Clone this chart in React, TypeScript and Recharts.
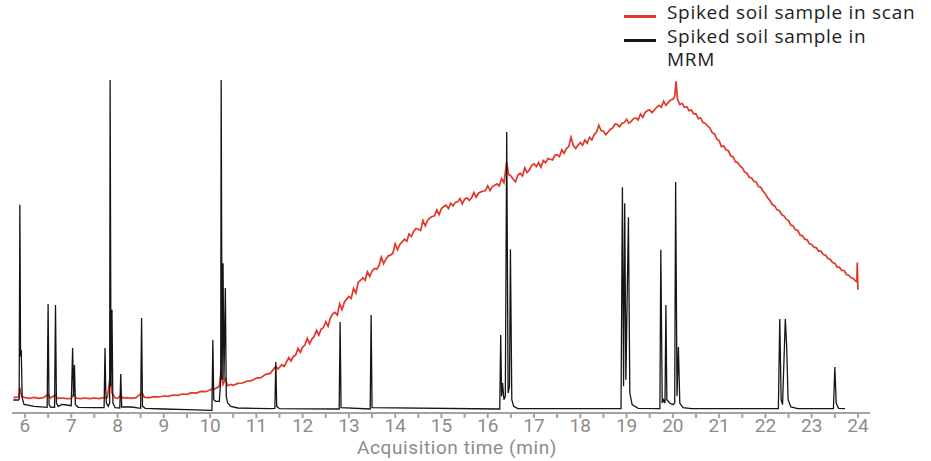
import React from "react";
import { LineChart, Line, XAxis, YAxis } from "recharts";

// x ticks every half minute, labels only on whole minutes
const TICKS = [
  6, 6.5, 7, 7.5, 8, 8.5, 9, 9.5, 10, 10.5, 11, 11.5, 12, 12.5, 13, 13.5, 14, 14.5,
  15, 15.5, 16, 16.5, 17, 17.5, 18, 18.5, 19, 19.5, 20, 20.5, 21, 21.5, 22, 22.5,
  23, 23.5, 24,
];

// [time (min), relative abundance %] – full scan trace
const SCAN: [number, number][] = [
  [5.75, 4.6], [5.8, 4.7], [5.87, 4.8], [5.89, 7.6], [5.93, 5.0], [6.0, 4.6], [6.1, 4.4],
  [6.2, 4.7], [6.3, 4.4], [6.4, 4.6], [6.5, 5.6], [6.55, 4.5], [6.66, 5.4], [6.7, 4.4],
  [6.8, 4.5], [6.9, 4.3], [7.0, 4.4], [7.05, 5.6], [7.1, 4.5], [7.2, 4.3], [7.3, 4.5],
  [7.4, 4.3], [7.5, 4.5], [7.6, 4.3], [7.7, 4.6], [7.78, 4.6], [7.84, 10.8], [7.88, 6.0],
  [7.95, 4.5], [8.0, 4.4], [8.07, 5.3], [8.12, 4.5], [8.2, 4.6], [8.3, 4.4], [8.4, 4.6],
  [8.53, 6.1], [8.58, 4.7], [8.7, 4.6], [8.8, 4.9], [8.9, 4.8], [9.0, 5.1], [9.1, 5.0],
  [9.2, 5.4], [9.3, 5.3], [9.4, 5.7], [9.5, 5.6], [9.6, 6.1], [9.7, 6.0], [9.8, 6.5],
  [9.9, 6.4], [10.0, 6.9], [10.06, 7.4], [10.1, 7.2], [10.2, 8.0], [10.24, 13.0],
  [10.28, 8.6], [10.33, 10.2], [10.38, 8.2], [10.45, 8.6], [10.5, 8.3], [10.6, 8.9],
  [10.7, 9.0], [10.8, 9.6], [10.9, 9.7], [11.0, 10.5], [11.1, 10.6], [11.2, 11.6],
  [11.3, 11.9], [11.42, 14.0], [11.47, 13.2], [11.55, 14.5], [11.6, 14.0], [11.7, 16.6],
  [11.75, 15.6], [11.8, 17.0], [11.85, 17.4], [11.9, 19.4], [11.95, 18.2], [12.0, 19.8],
  [12.05, 20.4], [12.1, 22.4], [12.15, 20.8], [12.2, 22.2], [12.25, 23.0], [12.3, 24.8],
  [12.35, 23.4], [12.4, 25.2], [12.45, 25.6], [12.5, 27.4], [12.55, 26.0], [12.6, 28.6],
  [12.65, 29.8], [12.7, 30.2], [12.75, 29.4], [12.8, 32.8], [12.85, 31.0], [12.9, 33.2],
  [12.95, 34.2], [13.0, 35.0], [13.05, 34.4], [13.1, 37.4], [13.15, 36.0], [13.2, 39.2],
  [13.25, 39.8], [13.3, 40.6], [13.35, 39.8], [13.4, 42.4], [13.45, 41.0], [13.5, 42.6],
  [13.55, 43.4], [13.6, 43.2], [13.65, 44.2], [13.7, 46.8], [13.75, 44.8], [13.8, 46.2],
  [13.85, 47.2], [13.9, 47.4], [13.95, 48.0], [14.0, 50.8], [14.05, 49.0], [14.1, 50.6],
  [14.15, 51.4], [14.2, 52.2], [14.25, 51.6], [14.3, 53.8], [14.35, 53.0], [14.4, 54.6],
  [14.45, 55.4], [14.5, 55.2], [14.55, 54.8], [14.6, 57.8], [14.65, 56.2], [14.7, 57.8],
  [14.75, 58.6], [14.8, 59.0], [14.85, 59.2], [14.9, 61.0], [14.95, 59.6], [15.0, 61.4],
  [15.05, 62.0], [15.1, 62.4], [15.15, 61.4], [15.2, 63.0], [15.25, 62.2], [15.3, 63.2],
  [15.35, 63.4], [15.4, 64.4], [15.45, 62.8], [15.5, 64.2], [15.55, 64.6], [15.6, 63.8],
  [15.65, 64.6], [15.7, 66.2], [15.75, 64.8], [15.8, 66.0], [15.85, 66.4], [15.9, 66.6],
  [15.95, 66.8], [16.0, 68.2], [16.05, 66.8], [16.1, 68.0], [16.15, 68.4], [16.2, 68.8],
  [16.25, 68.2], [16.3, 70.4], [16.35, 69.2], [16.41, 75.4], [16.45, 71.6], [16.5, 71.2],
  [16.55, 70.2], [16.6, 69.4], [16.65, 71.4], [16.7, 72.0], [16.75, 71.2], [16.8, 73.6],
  [16.85, 72.2], [16.9, 73.0], [16.95, 74.4], [17.0, 74.8], [17.05, 74.0], [17.1, 75.2],
  [17.15, 73.8], [17.2, 75.8], [17.25, 75.2], [17.3, 76.4], [17.35, 76.2], [17.4, 76.0],
  [17.45, 77.4], [17.5, 77.6], [17.55, 77.0], [17.6, 79.0], [17.65, 78.0], [17.7, 79.4],
  [17.75, 80.0], [17.8, 82.8], [17.85, 80.4], [17.9, 79.4], [17.95, 80.4], [18.0, 81.2],
  [18.05, 80.4], [18.1, 82.0], [18.15, 81.0], [18.2, 82.8], [18.25, 82.0], [18.3, 83.6],
  [18.35, 84.4], [18.4, 86.4], [18.45, 84.8], [18.5, 84.6], [18.55, 83.6], [18.6, 84.4],
  [18.65, 85.2], [18.7, 85.6], [18.75, 86.8], [18.8, 86.6], [18.85, 86.0], [18.9, 87.0],
  [18.95, 87.2], [19.0, 88.2], [19.05, 87.0], [19.1, 87.6], [19.15, 88.4], [19.2, 88.6],
  [19.25, 88.0], [19.3, 89.8], [19.35, 88.8], [19.4, 90.2], [19.45, 90.8], [19.5, 91.0],
  [19.55, 90.2], [19.6, 91.0], [19.65, 91.8], [19.7, 92.4], [19.75, 91.8], [19.8, 93.6],
  [19.85, 92.4], [19.9, 93.2], [19.95, 94.0], [20.0, 94.2], [20.04, 95.0], [20.07, 99.6],
  [20.1, 94.2], [20.15, 92.6], [20.2, 93.0], [20.25, 91.8], [20.3, 92.0], [20.35, 90.8],
  [20.4, 91.0], [20.45, 89.8], [20.5, 89.8], [20.55, 88.4], [20.6, 88.6], [20.65, 87.2],
  [20.7, 87.0], [20.75, 86.2], [20.8, 85.6], [20.85, 84.2], [20.9, 83.8], [20.95, 82.2],
  [21.0, 81.8], [21.05, 80.0], [21.1, 80.2], [21.15, 79.0], [21.2, 78.8], [21.25, 77.2],
  [21.3, 77.0], [21.35, 75.4], [21.4, 75.2], [21.45, 74.2], [21.5, 73.6], [21.55, 72.4],
  [21.6, 72.0], [21.65, 70.8], [21.7, 70.6], [21.75, 69.6], [21.8, 69.4], [21.85, 68.0],
  [21.9, 67.8], [21.95, 66.6], [22.0, 65.8], [22.05, 64.6], [22.1, 63.8], [22.15, 62.6],
  [22.2, 62.2], [22.25, 61.0], [22.3, 60.8], [22.35, 59.6], [22.4, 59.2], [22.45, 58.2],
  [22.5, 57.8], [22.55, 56.4], [22.6, 56.2], [22.65, 55.0], [22.7, 54.8], [22.75, 53.4],
  [22.8, 53.2], [22.85, 52.2], [22.9, 52.0], [22.95, 50.8], [23.0, 50.6], [23.05, 49.8],
  [23.1, 49.6], [23.15, 48.6], [23.2, 48.6], [23.25, 47.6], [23.3, 47.4], [23.35, 46.4],
  [23.4, 46.2], [23.45, 45.2], [23.5, 45.0], [23.55, 43.8], [23.6, 43.8], [23.65, 42.8],
  [23.7, 42.8], [23.75, 41.6], [23.8, 41.4], [23.85, 40.6], [23.9, 40.4], [23.95, 39.6],
  [23.975, 39.4], [23.985, 45.2], [24.0, 37.0],
];

// [time (min), relative abundance %] – MRM trace
const MRM: [number, number][] = [
  [5.75, 3.9], [5.86, 3.9], [5.875, 4.2], [5.89, 62.5], [5.905, 17.0], [5.92, 19.0],
  [5.94, 4.6], [5.98, 2.6], [6.2, 2.0], [6.48, 1.7], [6.5, 32.7], [6.52, 2.6], [6.55, 1.8],
  [6.64, 1.7], [6.66, 32.4], [6.68, 3.0], [6.72, 2.0], [6.8, 2.6], [6.9, 2.4], [7.0, 2.2],
  [7.03, 19.5], [7.05, 5.0], [7.07, 14.4], [7.09, 2.5], [7.15, 1.7], [7.5, 1.6],
  [7.71, 1.6], [7.73, 19.5], [7.745, 7.0], [7.76, 3.0], [7.8, 2.0], [7.83, 3.0],
  [7.84, 100], [7.86, 8.0], [7.88, 31.0], [7.9, 3.0], [7.95, 1.6], [8.05, 1.5],
  [8.07, 11.7], [8.09, 1.8], [8.3, 1.8], [8.5, 1.4], [8.52, 28.5], [8.54, 2.0], [8.6, 1.4],
  [9.0, 1.2], [9.5, 1.0], [10.04, 0.8], [10.06, 21.9], [10.08, 4.0], [10.12, 3.5],
  [10.2, 3.5], [10.23, 10.0], [10.24, 100], [10.26, 10.0], [10.28, 45.0], [10.3, 10.0],
  [10.33, 37.5], [10.35, 5.0], [10.38, 3.0], [10.45, 2.0], [10.6, 1.5], [11.3, 1.3],
  [11.4, 1.4], [11.42, 15.3], [11.44, 2.0], [11.5, 1.3], [12.79, 1.2], [12.81, 27.3],
  [12.83, 1.6], [13.46, 1.2], [13.48, 29.4], [13.5, 1.6], [16.26, 1.2], [16.28, 23.4],
  [16.3, 5.0], [16.32, 9.0], [16.35, 4.0], [16.38, 5.0], [16.41, 84.4], [16.44, 6.0],
  [16.47, 8.0], [16.49, 49.2], [16.52, 4.0], [16.56, 2.0], [16.65, 1.3], [18.88, 1.3],
  [18.91, 67.8], [18.935, 8.0], [18.96, 63.0], [18.985, 10.0], [19.04, 58.8], [19.07, 6.0],
  [19.12, 2.5], [19.25, 1.4], [19.72, 1.3], [19.74, 49.0], [19.77, 3.0], [19.8, 4.0],
  [19.83, 3.0], [19.85, 32.4], [19.87, 4.0], [19.93, 3.0], [20.0, 2.5], [20.04, 3.0],
  [20.06, 69.4], [20.09, 5.0], [20.12, 19.8], [20.15, 3.0], [20.22, 1.6], [20.4, 1.3],
  [22.28, 1.3], [22.31, 28.2], [22.34, 4.0], [22.37, 2.5], [22.43, 28.2], [22.46, 19.8],
  [22.49, 4.0], [22.55, 1.8], [22.7, 1.3], [23.47, 1.3], [23.5, 13.8], [23.53, 3.0],
  [23.58, 1.4], [23.72, 1.3],
];

const SERIES = [
  { key: "scan", name: "Spiked soil sample in scan", color: "#e2372b", width: 1.7, points: SCAN },
  { key: "mrm", name: "Spiked soil sample in\nMRM", color: "#151515", width: 1.3, points: MRM },
];

const GRAY = "#8c8c8c";

// legend sits in the top-right corner, outside the plot area
function ChartLegend() {
  return (
    <div
      style={{
        position: "absolute",
        top: 1,
        left: 624,
        fontFamily: "'Open Sans'",
        fontSize: 19,
        letterSpacing: 0.7,
        color: "#222",
        lineHeight: "23.5px",
      }}
    >
      {SERIES.map((s) => (
        <div key={s.key} style={{ display: "flex", alignItems: "flex-start" }}>
          <span
            style={{
              display: "inline-block",
              width: 32,
              height: 3,
              marginTop: 14,
              marginRight: 11,
              background: s.color,
              flex: "none",
            }}
          />
          <span style={{ whiteSpace: "pre" }}>{s.name}</span>
        </div>
      ))}
    </div>
  );
}

export default function App() {
  return (
    <div style={{ position: "absolute", left: 0, top: 0, width: 931, height: 461, background: "#fff" }}>
      <LineChart width={931} height={461} margin={{ top: 80, right: 61, left: 12, bottom: 0 }}>
        <XAxis
          dataKey="t"
          type="number"
          domain={[5.72, 24.26]}
          ticks={TICKS}
          allowDataOverflow
          height={48}
          interval={0}
          stroke="#a3a3a3"
          strokeWidth={2}
          tickSize={5}
          tickMargin={1}
          tick={{ fill: GRAY, fontSize: 19, fontFamily: "Roboto" }}
          tickFormatter={(v: number) => (Number.isInteger(v) ? String(v) : "")}
          label={{
            value: "Acquisition time (min)",
            position: "insideBottom",
            offset: 7,
            dx: 16,
            fill: GRAY,
            fontSize: 19,
            fontFamily: "Roboto",
            letterSpacing: 0.6,
          }}
        />
        <YAxis hide domain={[0, 100]} type="number" allowDataOverflow />
        {SERIES.map((s) => (
          <Line
            key={s.key}
            data={s.points.map(([t, v]) => ({ t, v }))}
            dataKey="v"
            name={s.name}
            stroke={s.color}
            strokeWidth={s.width}
            dot={false}
            activeDot={false}
            type="linear"
            isAnimationActive={false}
          />
        ))}
      </LineChart>
      <ChartLegend />
    </div>
  );
}
